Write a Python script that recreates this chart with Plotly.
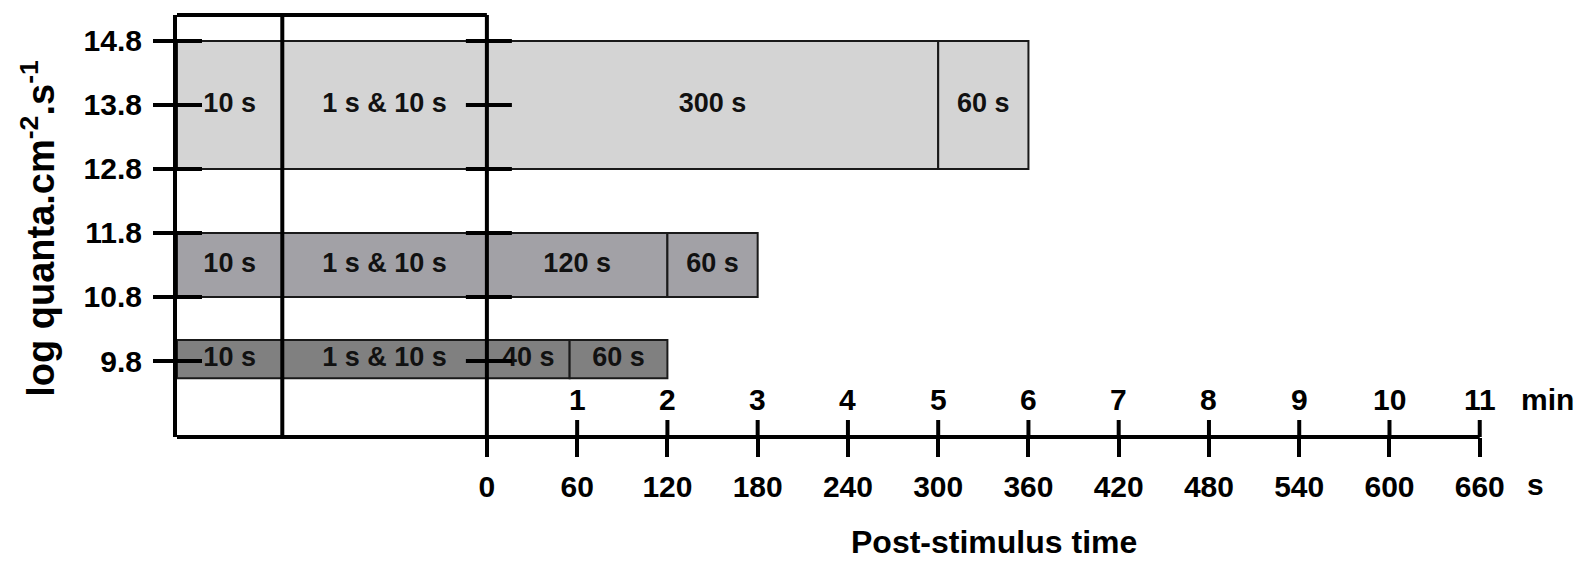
import plotly.graph_objects as go

# ---------------- data ----------------
# intensity rows (log quanta.cm-2.s-1): top and bottom edges of each stimulus band
row_names = ["14.8-12.8", "11.8-10.8", "9.8"]
row_top = [14.8, 11.8, 10.13]
row_bottom = [12.8, 10.8, 9.53]
row_colors = ["#d4d4d4", "#a2a1a6", "#808080"]

# segment edges along the time axis (s); the two columns left of 0 are
# pre-stimulus periods drawn schematically (not to scale)
pre_edges = [-206, -136, 0]
post_edges = [
    [0, 300, 360],
    [0, 120, 180],
    [0, 55, 120],
]
seg_labels = [
    ["10 s", "1 s & 10 s", "300 s", "60 s"],
    ["10 s", "1 s & 10 s", "120 s", "60 s"],
    ["10 s", "1 s & 10 s", "40 s", "60 s"],
]

y_ticks = [9.8, 10.8, 11.8, 12.8, 13.8, 14.8]
sec_ticks = [0, 60, 120, 180, 240, 300, 360, 420, 480, 540, 600, 660]
min_ticks = [1, 2, 3, 4, 5, 6, 7, 8, 9, 10, 11]

FONT = "Liberation Sans, Arial, sans-serif"
X_RANGE = [-206, 720]
Y_RANGE = [8.6125, 15.206]
TICK_FONT = dict(family=FONT, size=30, color="black", weight="bold")

fig = go.Figure()

for r in range(len(row_names)):
    edges = pre_edges[:-1] + post_edges[r]
    starts = edges[:-1]
    lengths = [edges[i + 1] - edges[i] for i in range(len(edges) - 1)]
    h = row_top[r] - row_bottom[r]
    c = (row_top[r] + row_bottom[r]) / 2
    fig.add_trace(go.Bar(
        orientation="h",
        y=[c] * len(lengths), x=lengths, base=starts, width=[h] * len(lengths),
        marker=dict(color=row_colors[r], line=dict(color="#1a1a1a", width=2)),
        showlegend=False, hoverinfo="skip",
    ))
    mids = [s + l / 2 for s, l in zip(starts, lengths)]
    fig.add_trace(go.Scatter(
        x=mids, y=[c] * len(mids), mode="text", text=seg_labels[r],
        textfont=dict(family=FONT, size=27, color="#111", weight="bold"),
        showlegend=False, hoverinfo="skip",
    ))

shapes = []
L = dict(color="black", width=4)
# frame of the pre-stimulus box and time axis line
shapes.append(dict(type="line", xref="x", yref="paper", x0=pre_edges[0], x1=0, y0=1, y1=1, line=L))
shapes.append(dict(type="line", xref="x", yref="paper", x0=pre_edges[1], x1=pre_edges[1], y0=0, y1=1, line=L))
shapes.append(dict(type="line", xref="x", yref="paper", x0=0, x1=0, y0=0, y1=1, line=L))
shapes.append(dict(type="line", xref="x", yref="paper", x0=pre_edges[0], x1=sec_ticks[-1], y0=0, y1=0, line=L))
# inner halves of y ticks and the crossing dashes at t = 0
for yt in y_ticks:
    shapes.append(dict(type="line", xref="x", yref="y", xsizemode="pixel", xanchor=pre_edges[0],
                       x0=0, x1=25, y0=yt, y1=yt, line=L))
    shapes.append(dict(type="line", xref="x", yref="y", xsizemode="pixel", xanchor=0,
                       x0=-21, x1=25, y0=yt, y1=yt, line=L))
# upper halves of the time ticks
for st in sec_ticks[1:]:
    shapes.append(dict(type="line", xref="x", yref="paper", ysizemode="pixel", yanchor=0,
                       x0=st, x1=st, y0=0, y1=17, line=L))

annotations = []
for m in min_ticks:
    annotations.append(dict(x=m * 60, y=0, xref="x", yref="paper", yanchor="bottom",
                            yshift=19, text=str(m), showarrow=False, font=TICK_FONT))
annotations.append(dict(x=686, y=0, xref="x", yref="paper", xanchor="left", yanchor="bottom",
                        yshift=19, text="min", showarrow=False, font=TICK_FONT))
annotations.append(dict(x=690, y=-0.1137, xref="x", yref="paper", xanchor="left", yanchor="middle",
                        text="s", showarrow=False, font=TICK_FONT))
annotations.append(dict(x=337, y=-0.2488, xref="x", yref="paper", xanchor="center", yanchor="middle",
                        text="Post-stimulus time", showarrow=False,
                        font=dict(family=FONT, size=32, color="black", weight="bold")))
annotations.append(dict(x=-0.1, y=0.495, xref="paper", yref="paper", xanchor="center", yanchor="middle",
                        textangle=-90, text="log quanta.cm<sup>-2</sup>.s<sup>-1</sup>", showarrow=False,
                        font=dict(family=FONT, size=38, color="black", weight="bold")))

fig.update_layout(
    width=1583, height=561, autosize=False,
    margin=dict(l=177, r=13, t=15, b=124),
    paper_bgcolor="white", plot_bgcolor="white",
    barmode="overlay", showlegend=False,
    xaxis=dict(range=X_RANGE, showgrid=False, zeroline=False, showline=False,
               tickmode="array", tickvals=sec_ticks, ticktext=[str(s) for s in sec_ticks],
               ticks="outside", ticklen=19, tickwidth=4, tickcolor="black",
               tickfont=TICK_FONT, ticklabelstandoff=4, fixedrange=True),
    yaxis=dict(range=Y_RANGE, showgrid=False, zeroline=False, showline=True,
               linewidth=4, linecolor="black",
               tickmode="array", tickvals=y_ticks, ticktext=[f"{v:.1f}" for v in y_ticks],
               ticks="outside", ticklen=20, tickwidth=4, tickcolor="black",
               tickfont=TICK_FONT, ticklabelstandoff=5, fixedrange=True),
    shapes=shapes, annotations=annotations,
)

fig.write_html("out.html")
